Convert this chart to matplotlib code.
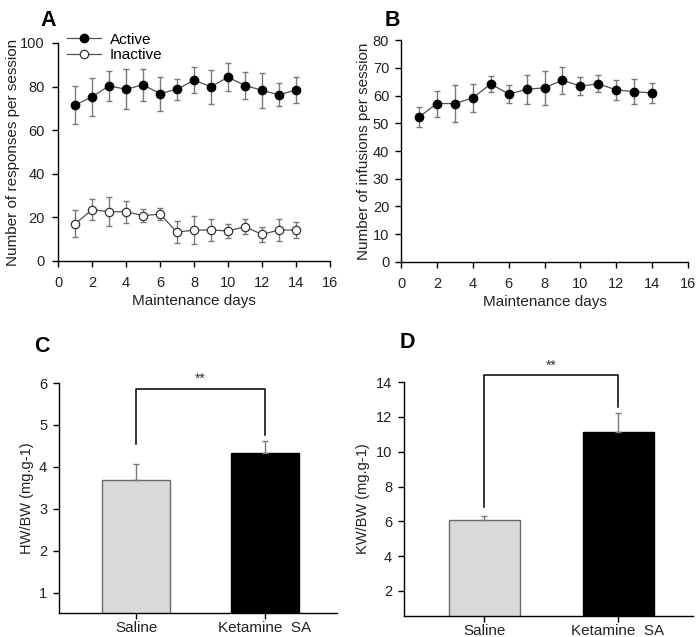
import matplotlib
matplotlib.use("Agg")
import matplotlib.pyplot as plt
import numpy as np

plt.rcParams['font.family'] = ['Liberation Sans', 'DejaVu Sans']

days = list(range(1, 15))
active_mean = [71.5, 75.3, 80.3, 78.8, 80.8, 76.8, 78.8, 82.9, 80.0, 84.3, 80.5, 78.3, 76.2, 78.5]
active_err = [8.8, 8.8, 7.0, 9.1, 7.5, 7.8, 4.9, 6.0, 7.8, 6.4, 6.0, 8.1, 5.3, 5.9]
inactive_mean = [17.0, 23.5, 22.6, 22.6, 20.8, 21.5, 13.2, 14.2, 14.2, 13.8, 15.7, 12.2, 14.2, 14.2]
inactive_err = [6.2, 4.9, 6.6, 5.0, 2.9, 2.8, 5.1, 6.6, 4.9, 3.3, 3.4, 3.5, 4.9, 3.6]
infusion_mean = [52.2, 57.1, 57.1, 59.1, 64.2, 60.5, 62.2, 62.8, 65.5, 63.4, 64.2, 62.0, 61.4, 60.9]
infusion_err = [3.5, 4.7, 6.6, 4.9, 2.8, 3.2, 5.1, 6.1, 4.8, 3.1, 3.1, 3.6, 4.6, 3.6]

groups = ["Saline", "Ketamine  SA"]
hw_mean = [3.70, 4.33]
hw_err = [0.37, 0.28]
kw_mean = [6.05, 11.15]
kw_err = [0.25, 1.08]

fig = plt.figure(figsize=(7.0, 6.37), dpi=100)

tick_fs = 10.5
lab_fs = 10.5
err_col = '#7a7a7a'
line_col = '#505050'
text_col = '#222222'


def style_axes(ax, pad=5):
    for s in ['top', 'right']:
        ax.spines[s].set_visible(False)
    for s in ['left', 'bottom']:
        ax.spines[s].set_linewidth(1.0)
        ax.spines[s].set_color('black')
    ax.tick_params(direction='out', length=4.5, width=1, labelsize=tick_fs,
                   pad=pad, labelcolor=text_col)


# Panel A
axA = fig.add_axes([0.0829, 0.5903, 0.3886, 0.3422])
style_axes(axA)
axA.tick_params(axis='x', pad=6)
axA.errorbar(days, active_mean, yerr=active_err, fmt='none', ecolor=err_col,
             elinewidth=1, capsize=2.2, capthick=1, zorder=2)
axA.errorbar(days, inactive_mean, yerr=inactive_err, fmt='none', ecolor=err_col,
             elinewidth=1, capsize=2.2, capthick=1, zorder=2)
axA.plot(days, active_mean, '-', color=line_col, lw=0.9, marker='o', ms=6,
         mfc='black', mec='black', label='Active', zorder=3)
axA.plot(days, inactive_mean, '-', color=line_col, lw=0.9, marker='o', ms=6,
         mfc='white', mec='#333333', mew=0.9, label='Inactive', zorder=3)
axA.set_xlim(0, 16)
axA.set_ylim(0, 100)
axA.set_xticks(range(0, 17, 2))
axA.set_yticks(range(0, 101, 20))
axA.set_xlabel('Maintenance days', fontsize=11, color=text_col, labelpad=3)
axA.set_ylabel('Number of responses per session', fontsize=11, labelpad=0, color=text_col)
axA.legend(loc='upper left', bbox_to_anchor=(0.0, 1.09), frameon=False,
           fontsize=11, handlelength=2.2, handletextpad=0.6,
           labelspacing=0.1, borderaxespad=0.2)
fig.text(40 / 700, 1 - 20 / 637, 'A', fontsize=15.5, fontweight='bold', va='center', ha='left')

# Panel B
axB = fig.add_axes([0.5729, 0.5887, 0.41, 0.3485])
style_axes(axB, pad=4)
axB.tick_params(axis='x', pad=6)
axB.errorbar(days, infusion_mean, yerr=infusion_err, fmt='none', ecolor=err_col,
             elinewidth=1, capsize=2.2, capthick=1, zorder=2)
axB.plot(days, infusion_mean, '-', color=line_col, lw=0.9, marker='o', ms=6,
         mfc='black', mec='black', zorder=3)
axB.set_xlim(0, 16)
axB.set_ylim(0, 80)
axB.set_xticks(range(0, 17, 2))
axB.set_yticks(range(0, 81, 10))
axB.set_xlabel('Maintenance days', fontsize=11, color=text_col, labelpad=3)
axB.set_ylabel('Number of infusions per session', fontsize=11, labelpad=1, color=text_col)
fig.text(385 / 700, 1 - 20 / 637, 'B', fontsize=15.5, fontweight='bold', va='center', ha='left')


def bar_panel(rect, means, errs, ylim, yticks, ylabel, bracket, letter, letter_xy):
    ax = fig.add_axes(rect)
    style_axes(ax, pad=4)
    ax.tick_params(axis='x', pad=2, length=4, labelsize=11)
    x = np.arange(len(groups))
    ax.bar(x, means, width=0.53, color=['#d9d9d9', 'black'],
           edgecolor=['#6a6a6a', 'black'], linewidth=1, zorder=2)
    ax.errorbar(x, means, yerr=[np.zeros(len(errs)), errs], fmt='none',
                ecolor=err_col, elinewidth=1, capsize=2.5, capthick=1, zorder=3)
    ax.set_xlim(-0.6, 1.56)
    ax.set_ylim(*ylim)
    ax.set_yticks(yticks)
    ax.set_xticks(x)
    ax.set_xticklabels(groups)
    ax.spines['left'].set_bounds(ylim[0], yticks[-1])
    ax.set_ylabel(ylabel, fontsize=lab_fs, color=text_col)
    yb, yl0, yl1, ys = bracket
    ax.plot([0, 0, 1, 1], [yl0, yb, yb, yl1], color='black', lw=1.1,
            clip_on=False, zorder=4)
    ax.text(0.5, ys, '**', ha='center', va='center', fontsize=10, color='#333333')
    fig.text(letter_xy[0] / 700, 1 - letter_xy[1] / 637, letter, fontsize=15.5,
             fontweight='bold', va='center', ha='left')
    return ax


bar_panel([0.0843, 0.0377, 0.397, 0.361], hw_mean, hw_err, (0.52, 6.0),
          [1, 2, 3, 4, 5, 6], 'HW/BW (mg.g-1)', (5.86, 4.55, 4.75, 6.1),
          'C', (34, 347))
bar_panel([0.577, 0.033, 0.413, 0.367], kw_mean, kw_err, (0.56, 14.0),
          [2, 4, 6, 8, 10, 12, 14], 'KW/BW (mg.g-1)', (14.43, 6.8, 12.6, 14.95),
          'D', (400, 343))

fig.savefig('out.png', dpi=100)
